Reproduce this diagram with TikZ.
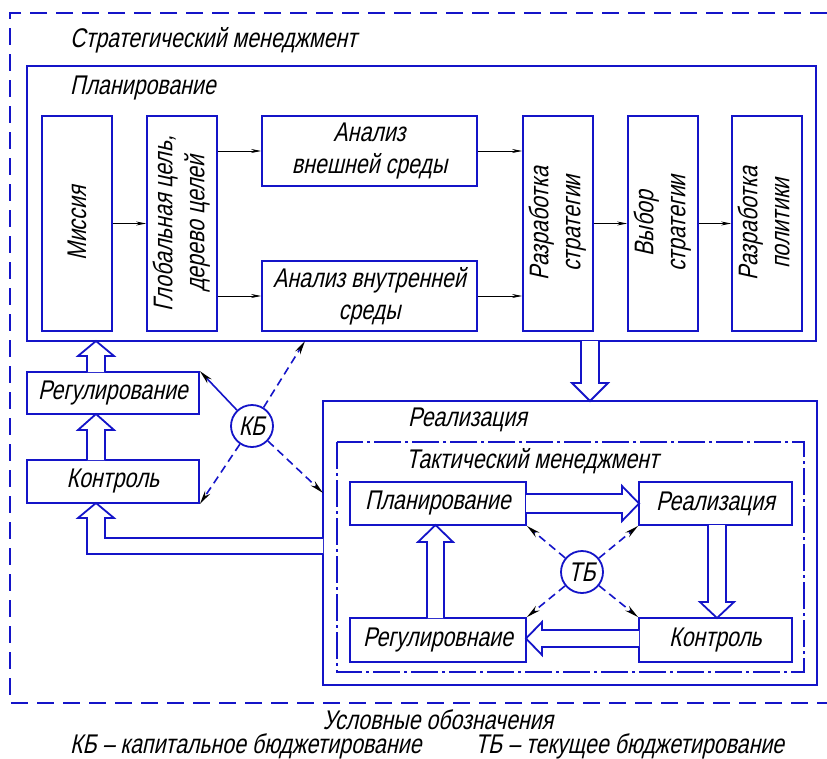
\documentclass[tikz,border=0pt]{standalone}
\usepackage{fontspec}
\newfontfamily\gost[FakeStretch=0.79,FakeSlant=0.22]{Liberation Sans}
\newcommand\gf{\gost\fontsize{27}{32}\selectfont}
\usetikzlibrary{arrows.meta,calc}
\definecolor{bl}{RGB}{20,20,200}
\begin{document}
\begin{tikzpicture}[x=1pt,y=-1pt,
  box/.style={draw=bl,line width=1.8pt,fill=white,inner sep=0pt,align=center,font=\gf},
  lbl/.style={anchor=west,inner sep=0pt,font=\gf},
  thinarr/.style={draw=black,line width=0.8pt,-{Stealth[length=10pt,width=4pt]}},
  barr/.style={draw=bl,line width=1.8pt,fill=white,line join=miter},
  kbarr/.style={draw=bl,line width=1.6pt,-{Stealth[length=14pt,width=6pt,color=black]}},
  dsh/.style={dash pattern=on 8pt off 5pt},
  circ/.style={circle,draw=bl,line width=1.8pt,fill=white,minimum size=42pt,inner sep=0pt,font=\gf}]
\useasboundingbox (0,0) rectangle (827,758);

% outer dashed frame (open on the right)
\draw[bl,line width=1.8pt,dash pattern=on 17pt off 9pt] (827,13) -- (10,13) -- (10,703) -- (827,703);
\node[lbl] (t1) at (70,40) {Стратегический менеджмент};

% planning block
\node[box,minimum width=789pt,minimum height=275pt] (planbox) at (421.5,203.5) {};
\node[lbl] (t2) at (70,88) {Планирование};

\node[box,minimum width=70pt,minimum height=215pt] (mis) at (77,223.5) {\rotatebox{90}{Миссия}};
\node[box,minimum width=70pt,minimum height=215pt] (glob) at (182,223.5)
  {\rotatebox{90}{\begin{tabular}{@{}c@{}}Глобальная цель,\\дерево целей\end{tabular}}};
\node[box,minimum width=215pt,minimum height=70pt] (ext) at (369.5,151)
  {Анализ\\внешней среды};
\node[box,minimum width=215pt,minimum height=70pt] (int) at (369.5,296)
  {Анализ внутренней\\среды};
\node[box,minimum width=70pt,minimum height=215pt] (rs) at (558,223.5)
  {\rotatebox{90}{\begin{tabular}{@{}c@{}}Разработка\\стратегии\end{tabular}}};
\node[box,minimum width=70pt,minimum height=215pt] (vs) at (663,223.5)
  {\rotatebox{90}{\begin{tabular}{@{}c@{}}Выбор\\стратегии\end{tabular}}};
\node[box,minimum width=70pt,minimum height=215pt] (pol) at (767,223.5)
  {\rotatebox{90}{\begin{tabular}{@{}c@{}}Разработка\\политики\end{tabular}}};

\draw[thinarr] (mis.east) -- (glob.west);
\draw[thinarr] (glob.east |- ext.west) -- (ext.west);
\draw[thinarr] (glob.east |- int.west) -- (int.west);
\draw[thinarr] (ext.east) -- (rs.west |- ext.east);
\draw[thinarr] (int.east) -- (rs.west |- int.east);
\draw[thinarr] (rs.east) -- (vs.west);
\draw[thinarr] (vs.east) -- (pol.west);

% left column
\node[box,minimum width=172pt,minimum height=42pt] (reg) at (113,393) {Регулирование};
\node[box,minimum width=172pt,minimum height=43pt] (ctl) at (113,481.5) {Контроль};

% realization block
\node[box,minimum width=494pt,minimum height=284pt] (realbox) at (570,543) {};
\node[lbl] (t3) at (408,420) {Реализация};
\draw[bl,line width=1.6pt,dash pattern=on 27pt off 4pt on 3pt off 4pt] (337,442) rectangle (804,672);
\node[lbl] (t4) at (406,461) {Тактический менеджмент};

\node[box,minimum width=176pt,minimum height=43pt] (tplan) at (438,503.5) {Планирование};
\node[box,minimum width=153pt,minimum height=43pt] (treal) at (715.5,503.5) {Реализация};
\node[box,minimum width=176pt,minimum height=44pt] (treg) at (438,640) {Регулировнаие};
\node[box,minimum width=153pt,minimum height=44pt] (tctl) at (715.5,640) {Контроль};

% block arrows
\draw[barr] (87,372) -- (87,356) -- (78,356) -- (96,341) -- (114,356) -- (105,356) -- (105,372);
\draw[barr] (87,460) -- (87,430) -- (78,430) -- (96,414) -- (114,430) -- (105,430) -- (105,460);
\draw[barr] (323,538) -- (105,538) -- (105,518) -- (114,518) -- (96,503) -- (78,518) -- (87,518) -- (87,554) -- (323,554);
\draw[barr] (581,341) -- (581,383) -- (572,383) -- (590,401) -- (608,383) -- (599,383) -- (599,341);
\draw[barr] (526,494) -- (622,494) -- (622,486) -- (639,503.5) -- (622,521) -- (622,513) -- (526,513);
\draw[barr] (708,525) -- (708,602) -- (700,602) -- (717,618) -- (734,602) -- (726,602) -- (726,525);
\draw[barr] (639,630) -- (542,630) -- (542,622) -- (526,638.5) -- (542,655) -- (542,647) -- (639,647);
\draw[barr] (427,618) -- (427,542) -- (418,542) -- (435.5,525) -- (453,542) -- (444,542) -- (444,618);

% KB
\node[circ] (kb) at (252,426) {КБ};
\coordinate (kbP) at (305,341);
\coordinate (kbR) at (323,493);
\draw[kbarr] (kb) -- (reg.north east);
\draw[kbarr,dsh] (kb) -- (kbP);
\draw[kbarr,dsh] (kb) -- (ctl.south east);
\draw[kbarr,dsh] (kb) -- (kbR);

% TB
\node[circ] (tb) at (582,572) {ТБ};
\draw[kbarr,dsh] (tb) -- (tplan.south east);
\draw[kbarr,dsh] (tb) -- (treal.south west);
\draw[kbarr,dsh] (tb) -- (treg.north east);
\draw[kbarr,dsh] (tb) -- (tctl.north west);

% legend
\node[font=\gf,inner sep=0pt] (leg) at (438,720) {Условные обозначения};
\node[lbl] (leg1) at (70,746) {КБ – капитальное бюджетирование};
\node[lbl] (leg2) at (475,746) {ТБ – текущее бюджетирование};
\end{tikzpicture}
\end{document}
